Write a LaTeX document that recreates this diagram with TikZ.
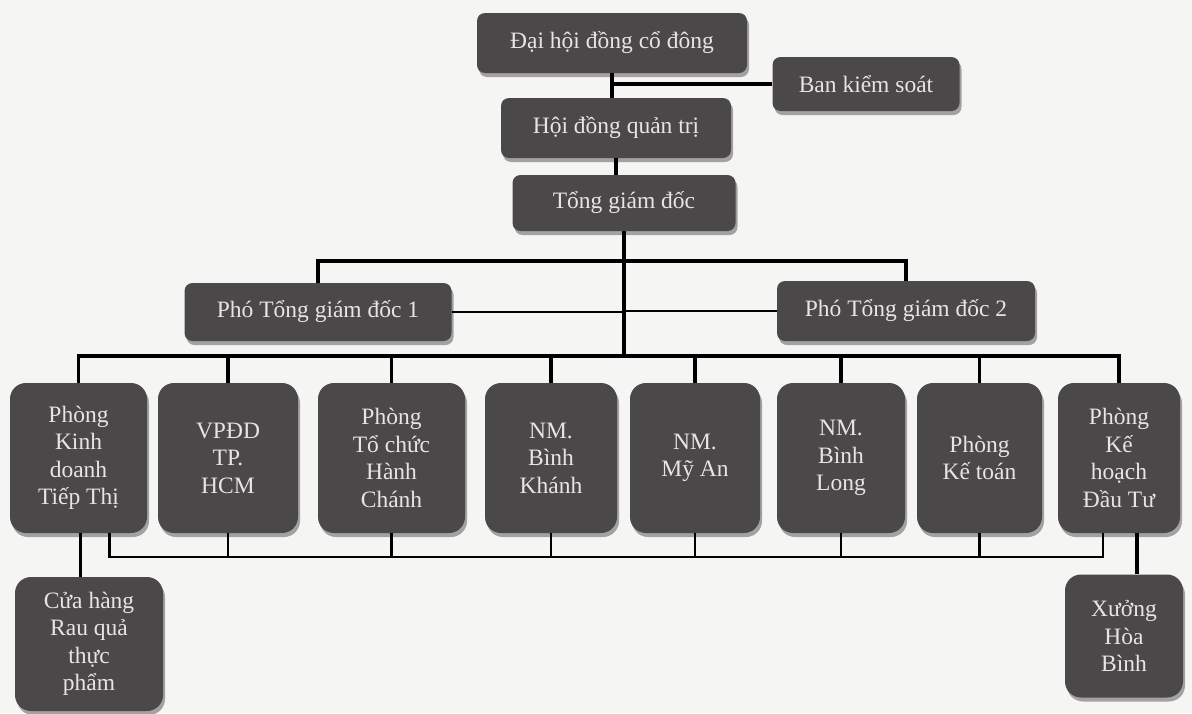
\documentclass[tikz,border=0pt]{standalone}
\usepackage{fontspec}
\setmainfont{Liberation Serif}
\usetikzlibrary{shadows, calc}
\definecolor{boxgray}{HTML}{4B484A}
\definecolor{rimgray}{HTML}{A3A1A2}
\definecolor{inkwhite}{HTML}{E6E4E5}
\definecolor{paper}{HTML}{F5F5F3}
\tikzstyle{block} = [rectangle, fill=boxgray, text=inkwhite, align=center,
    rounded corners=8pt, inner sep=0pt, font=\fontsize{23.5}{27.5}\selectfont,
    drop shadow={shadow xshift=2pt, shadow yshift=-4pt, fill=rimgray, opacity=1}]
\tikzstyle{unit} = [block, rounded corners=16pt, minimum height=150pt]
\tikzstyle{line} = [draw, line width=3.5pt]
\tikzstyle{thinline} = [draw, line width=2.3pt]

\begin{document}
\begin{tikzpicture}[x=1pt, y=-1pt]
    \useasboundingbox [fill=paper] (0,0) rectangle (1192,713);
    % top of the chart
    \node [block, minimum width=270, minimum height=60] at (612,43) (dh) {Đại hội đồng cổ đông};
    \node [block, minimum width=187, minimum height=54] at (866,84) (bks) {Ban kiểm soát};
    \node [block, minimum width=230, minimum height=60] at (616,128) (hd) {Hội đồng quản trị};
    \node [block, minimum width=223, minimum height=56] at (624,203) (tg) {Tổng giám đốc};
    \node [block, minimum width=267, minimum height=58] at (318,312) (p1) {Phó Tổng giám đốc 1};
    \node [block, minimum width=258, minimum height=60] at (906,311) (p2) {Phó Tổng giám đốc 2};
    % units
    \node [unit, minimum width=137] at (78.5,458) (b1) {Phòng\\Kinh\\doanh\\Tiếp Thị};
    \node [unit, minimum width=140] at (228,458) (b2) {VPĐD\\TP.\\HCM};
    \node [unit, minimum width=147] at (391.5,458) (b3) {Phòng\\Tổ chức\\Hành\\Chánh};
    \node [unit, minimum width=132] at (551,458) (b4) {NM.\\Bình\\Khánh};
    \node [unit, minimum width=130] at (695,458) (b5) {NM.\\Mỹ An};
    \node [unit, minimum width=128] at (841,458) (b6) {NM.\\Bình\\Long};
    \node [unit, minimum width=125] at (979.5,458) (b7) {Phòng\\Kế toán};
    \node [unit, minimum width=122] at (1119,458) (b8) {Phòng\\Kế\\hoạch\\Đầu Tư};
    \node [unit, minimum width=148, minimum height=134] at (89,644) (ch) {Cửa hàng\\Rau quả\\thực\\phẩm};
    \node [unit, minimum width=118, minimum height=123] at (1124,636) (xg) {Xưởng\\Hòa\\Bình};
    % buses
    \coordinate (tbus) at (0,261);
    \coordinate (bus) at (0,356);
    \coordinate (lbus) at (0,557);
    \coordinate (t1) at ($(b1.south)+(31,0)$);
    \coordinate (t8) at ($(b8.south)+(-16,0)$);
    \coordinate (d1) at ($(b1.south)+(2,0)$);
    \coordinate (d8) at ($(b8.south)+(18,0)$);
    % connectors
    \path [line] (dh.south) -- (dh.south |- hd.north);
    \path [line] (dh.south |- bks.west) -- (bks.west);
    \path [line] (hd.south) -- (hd.south |- tg.north);
    \path [line] (tg.south) -- (tg.south |- bus);
    \path [line] (p1.north) -- (p1.north |- tbus) -- (p2.north |- tbus) -- (p2.north);
    \path [thinline] (p1.east) -- (p1.east -| tg.south);
    \path [thinline] (p2.west) -- (p2.west -| tg.south);
    \path [line] (b1.north) -- (b1.north |- bus) -- (b8.north |- bus) -- (b8.north);
    \path [line] (b2.north) -- (b2.north |- bus);
    \path [line] (b3.north) -- (b3.north |- bus);
    \path [line] (b4.north) -- (b4.north |- bus);
    \path [line] (b5.north) -- (b5.north |- bus);
    \path [line] (b6.north) -- (b6.north |- bus);
    \path [line] (b7.north) -- (b7.north |- bus);
    \path [thinline] (t1) -- (t1 |- lbus) -- (t8 |- lbus) -- (t8);
    \path [thinline] (b2.south) -- (b2.south |- lbus);
    \path [thinline] (b3.south) -- (b3.south |- lbus);
    \path [thinline] (b4.south) -- (b4.south |- lbus);
    \path [thinline] (b5.south) -- (b5.south |- lbus);
    \path [thinline] (b6.south) -- (b6.south |- lbus);
    \path [thinline] (b7.south) -- (b7.south |- lbus);
    \path [line] (d1) -- (d1 |- ch.north);
    \path [line] (d8) -- (d8 |- xg.north);
\end{tikzpicture}
\end{document}
